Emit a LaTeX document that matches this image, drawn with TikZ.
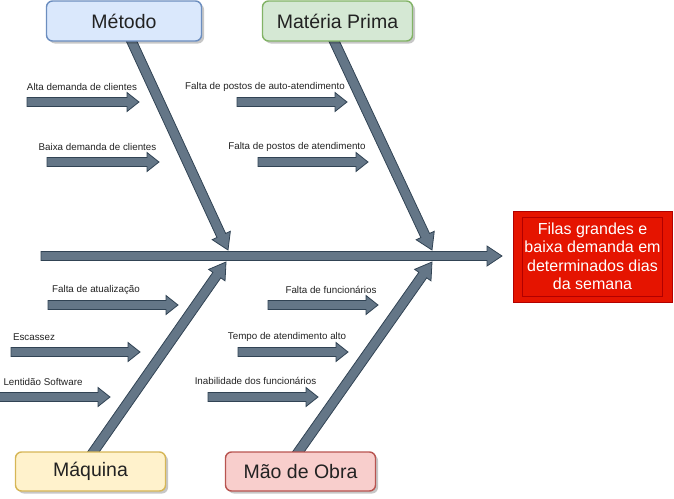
\documentclass[tikz,border=0pt]{standalone}
\usepackage{fontspec}
\setmainfont{Liberation Sans}
\usetikzlibrary{calc,shadows}
\definecolor{arrfill}{HTML}{647687}
\definecolor{arrdraw}{HTML}{314354}
\definecolor{bluef}{HTML}{DAE8FC}\definecolor{blued}{HTML}{6C8EBF}
\definecolor{greenf}{HTML}{D5E8D4}\definecolor{greend}{HTML}{82B366}
\definecolor{yellf}{HTML}{FFF2CC}\definecolor{yelld}{HTML}{D6B656}
\definecolor{redf}{HTML}{F8CECC}\definecolor{redd}{HTML}{B85450}
\definecolor{effectf}{HTML}{E51400}\definecolor{effectd}{HTML}{B20000}
\definecolor{txt}{HTML}{222222}
\tikzset{
  farrow/.style={fill=arrfill,draw=arrdraw,line width=0.8pt,line join=miter},
  catbox/.style={rectangle,rounded corners=6pt,line width=1.4pt,text=txt,
    font=\fontsize{19.5}{22}\selectfont,inner sep=0pt,
    drop shadow={shadow xshift=2.5pt,shadow yshift=-2.5pt,fill=black,opacity=0.22}},
  causelbl/.style={font=\fontsize{9.8}{11}\selectfont,text=txt,inner sep=0pt}
}
% \fatarrow{start}{end}{body half}{head half}{head length}
\newcommand\fatarrow[5]{%
  \draw[farrow] let \p1=(#1), \p2=(#2),
      \n1={atan2(\y2-\y1,\x2-\x1)},
      \n2={veclen(\x2-\x1,\y2-\y1)-#5pt},
      \n3={#3pt}, \n4={#4pt}, \n5={#4pt-#3pt}, \n6={#5pt} in
    ($(\p1)+(\n1+90:\n3)$) -- ++(\n1:\n2) -- ++(\n1+90:\n5) -- (\p2)
    -- ($(\p2)+(\n1+180:\n6)+(\n1-90:\n4)$) -- ++(\n1+90:\n5)
    -- ($(\p1)+(\n1-90:\n3)$) -- cycle;}
\begin{document}
\begin{tikzpicture}[x=1pt,y=-1pt]
\useasboundingbox (0,0) rectangle (674,498);

% coordinates for main spine and bones
\coordinate (spS) at (41,256);
\coordinate (spE) at (502,256);
\coordinate (mS) at (127.3,31.9);  \coordinate (mE) at (228,250);
\coordinate (pS) at (329.8,31.9);  \coordinate (pE) at (432,250);
\coordinate (qS) at (88.3,459.2);  \coordinate (qE) at (226,262);
\coordinate (oS) at (293.2,459.2); \coordinate (oE) at (432,262);

\fatarrow{spS}{spE}{4.5}{10}{15}
\fatarrow{mS}{mE}{4.8}{10}{16}
\fatarrow{pS}{pE}{4.8}{10}{16}
\fatarrow{qS}{qE}{4.8}{10}{16}
\fatarrow{oS}{oE}{4.8}{10}{16}

% category boxes
\node[catbox,fill=bluef,draw=blued,minimum width=155pt,minimum height=40pt] (metodo) at (124,21) {Método};
\node[catbox,fill=greenf,draw=greend,minimum width=150pt,minimum height=40pt] (materia) at (337.5,21) {Matéria Prima};
\node[catbox,fill=yellf,draw=yelld,minimum width=150pt,minimum height=39pt] (maquina) at (90.5,471.5) {Máquina};
\node[catbox,fill=redf,draw=redd,minimum width=150pt,minimum height=39pt] (maodeobra) at (300.5,471.5) {Mão de Obra};

% effect box
\node[rectangle,fill=effectf,draw=effectd,line width=0.8pt,minimum width=159pt,minimum height=91pt] (effect) at (592.5,256.5) {};
\node[rectangle,draw=effectd,line width=0.8pt,minimum width=140pt,minimum height=79pt,text=white,align=center,
  font=\fontsize{16}{18.5}\selectfont,inner sep=0pt] (effecttxt) at (592.5,256.5)
  {Filas grandes e\\baixa demanda em\\determinados dias\\da semana};

% cause arrows
\coordinate (c1s) at (27,102);  \coordinate (c1e) at (139,102);
\coordinate (c2s) at (47,162);  \coordinate (c2e) at (159,162);
\coordinate (c3s) at (237,102); \coordinate (c3e) at (347,102);
\coordinate (c4s) at (258,162); \coordinate (c4e) at (368,162);
\coordinate (c5s) at (48,305);  \coordinate (c5e) at (178,305);
\coordinate (c6s) at (11,352);  \coordinate (c6e) at (140,352);
\coordinate (c7s) at (-1,397);  \coordinate (c7e) at (110,397);
\coordinate (c8s) at (268,305); \coordinate (c8e) at (378,305);
\coordinate (c9s) at (238,352); \coordinate (c9e) at (348,352);
\coordinate (c10s) at (208,397); \coordinate (c10e) at (318,397);
\foreach \i in {1,...,10}{\fatarrow{c\i s}{c\i e}{4.5}{9.5}{12}}

% cause labels
\node[causelbl] (l1) at (82,87) {Alta demanda de clientes};
\node[causelbl] (l2) at (97.5,147) {Baixa demanda de clientes};
\node[causelbl] (l3) at (265,87) {Falta de postos de auto-atendimento};
\node[causelbl] (l4) at (297,146.5) {Falta de postos de atendimento};
\node[causelbl] (l5) at (96,290) {Falta de atualização};
\node[causelbl] (l6) at (34,337) {Escassez};
\node[causelbl] (l7) at (43,382) {Lentidão Software};
\node[causelbl] (l8) at (331,290) {Falta de funcionários};
\node[causelbl] (l9) at (287,337) {Tempo de atendimento alto};
\node[causelbl] (l10) at (255.5,381) {Inabilidade dos funcionários};
\end{tikzpicture}
\end{document}
